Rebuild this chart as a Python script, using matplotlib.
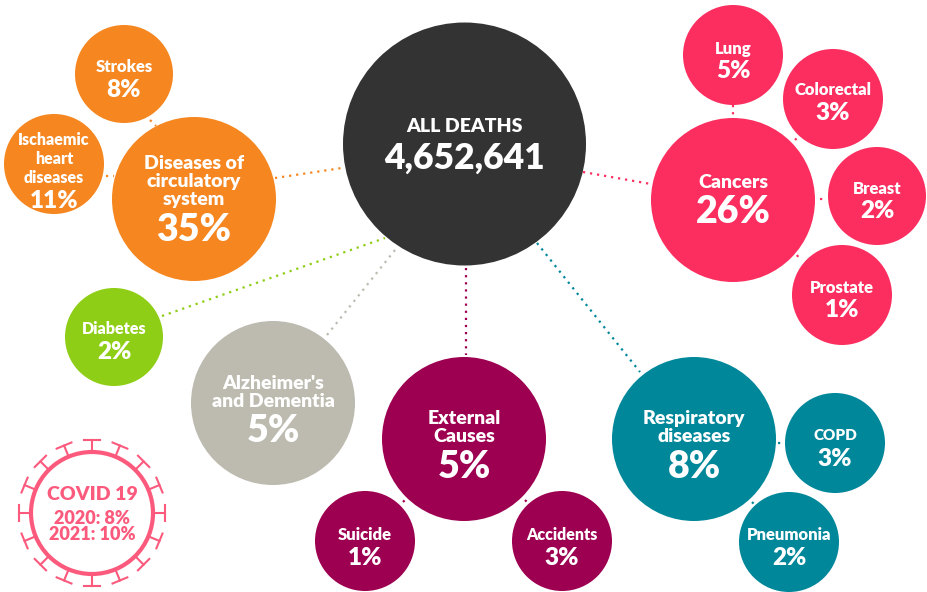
import matplotlib
matplotlib.use('Agg')
import matplotlib.pyplot as plt
from matplotlib.patches import Circle
import numpy as np

plt.rcParams['font.family'] = ['Lato', 'DejaVu Sans']

# bubbles: centre and radius (pixels)
names = ['ALL DEATHS', 'Diseases of\ncirculatory\nsystem', 'Strokes', 'Ischaemic\nheart\ndiseases',
         'Diabetes', "Alzheimer's\nand Dementia", 'External\nCauses', 'Suicide', 'Accidents',
         'Respiratory\ndiseases', 'COPD', 'Pneumonia', 'Cancers', 'Lung', 'Colorectal', 'Breast', 'Prostate']
values = ['4,652,641', '35%', '8%', '11%', '2%', '5%', '5%', '1%', '3%', '8%', '3%', '2%', '26%', '5%', '3%', '2%', '1%']
xs = [464.5, 194, 124, 54, 114, 273, 464, 365, 562, 694, 835, 789, 733, 733, 833, 877, 842]
ys = [144, 199, 74, 164, 337, 403, 439, 541, 541, 439, 443, 542, 200, 55, 99, 196, 295]
rs = [121.5, 82, 49, 50, 49, 82, 82, 50, 50, 82, 50, 50, 82, 50, 50, 49, 50]
name_y = [127, 181.5, 67, 159, 329, 392.5, 427.5, 535, 535, 427.5, 436, 535, 183, 49, 90, 189, 288]
value_y = [158, 230, 90, 201, 352, 431, 467, 558, 558, 467, 459, 558, 212, 71, 113, 211, 310]
name_sizes = [14, 14, 12, 11.5, 11.5, 14, 14, 12, 11.5, 14, 11, 12, 14, 12, 12, 12, 12]
value_sizes = [25.5, 27, 17.5, 17.5, 17.5, 27, 27, 17.5, 17.5, 27, 17.5, 17.5, 27, 17.5, 17.5, 17.5, 17.5]
colors = ['#333333', '#f58620', '#f58620', '#f58620', '#8fce16', '#bdbbb0', '#9e0051', '#9e0051', '#9e0051',
          '#00879a', '#00879a', '#00879a', '#fb2e5f', '#fb2e5f', '#fb2e5f', '#fb2e5f', '#fb2e5f']

# dotted links, they stop short of the bubbles
link_x0 = [275, 162, 327, 466, 537, 583, 150, 106, 403, 525, 778, 752, 733, 795, 820, 797]
link_y0 = [178, 316, 335, 268, 243, 172, 120, 176, 502, 500, 443, 502, 105, 140, 199, 255]
link_x1 = [342, 385, 395, 466, 640, 651, 156, 114, 405, 527, 781, 755, 733, 801, 827, 800]
link_y1 = [168, 238, 250, 355, 372, 184, 126, 176, 500, 502, 443, 505, 117, 134, 199, 260]
link_colors = ['#f58620', '#8fce16', '#bdbbb0', '#9e0051', '#00879a', '#fb2e5f', '#f58620', '#f58620',
               '#9e0051', '#9e0051', '#00879a', '#00879a', '#fb2e5f', '#fb2e5f', '#fb2e5f', '#fb2e5f']

covid_title = 'COVID 19'
covid_lines = ['2020: 8%', '2021: 10%']
covid_color = '#fb5a7d'

fig = plt.figure(figsize=(9.28, 5.92), dpi=100)
ax = fig.add_axes([0, 0, 1, 1])
ax.set_xlim(0, 928)
ax.set_ylim(592, 0)
ax.axis('off')

for i in range(len(link_x0)):
    ax.plot([link_x0[i], link_x1[i]], [link_y0[i], link_y1[i]], color=link_colors[i], lw=1.6,
            ls=(0, (1, 2.2)), zorder=1)

for i in range(len(names)):
    ax.add_patch(Circle((xs[i], ys[i]), rs[i], color=colors[i], lw=0, zorder=2))
    ax.text(xs[i], name_y[i], names[i], color='white', fontsize=name_sizes[i], fontweight='heavy', ha='center',
            va='center', linespacing=1.2 if i == 3 else 1.05, zorder=3)
    ax.text(xs[i], value_y[i], values[i], color='white', fontsize=value_sizes[i], fontweight='heavy', ha='center',
            va='center', zorder=3)

# virus icon
cx, cy, r = 92, 513, 61
ax.add_patch(Circle((cx, cy), r, fc='white', ec=covid_color, lw=3, zorder=2))
for ang in np.arange(0, 360, 22.5):
    t = np.radians(ang)
    ux, uy = np.cos(t), np.sin(t)
    px, py = cx + (r + 12) * ux, cy + (r + 12) * uy
    ax.plot([cx + r * ux, px], [cy + r * uy, py], color=covid_color, lw=1.5, zorder=1)
    ax.plot([px - 8 * uy, px + 8 * uy], [py + 8 * ux, py - 8 * ux], color=covid_color, lw=1.5, zorder=1)
ax.text(cx, 495, covid_title, color=covid_color, fontsize=14, fontweight='heavy', ha='center', va='center', zorder=3)
ax.text(cx, 518, covid_lines[0], color=covid_color, fontsize=13, fontweight='heavy', ha='center', va='center', zorder=3)
ax.text(cx, 534, covid_lines[1], color=covid_color, fontsize=13, fontweight='heavy', ha='center', va='center', zorder=3)

fig.savefig('out.png', dpi=100)
